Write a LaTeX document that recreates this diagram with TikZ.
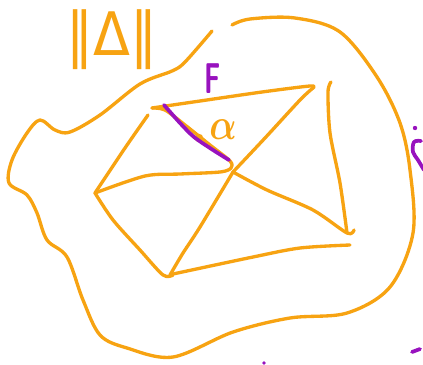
\documentclass[tikz,border=0pt]{standalone}
\usepackage{fontspec}
\newfontfamily\djv{DejaVu Sans}
\definecolor{pen}{RGB}{247,163,18}
\definecolor{ink}{RGB}{152,18,190}
\tikzset{
  stroke/.style={draw=pen, line width=2.5pt, line cap=round, line join=round},
  pstroke/.style={draw=ink, line width=2.8pt, line cap=round, line join=round},
  lbl/.style={inner sep=0pt}
}
\begin{document}
\begin{tikzpicture}[x=0.75pt,y=-0.75pt]
\useasboundingbox (0,0) rectangle (423,364);
\clip (0,0) rectangle (423,364);
% vertices
\coordinate (A) at (152,108);
\coordinate (B) at (313,88);
\coordinate (C) at (233,172);
\coordinate (D) at (95,193);
\coordinate (E) at (170,275);
\coordinate (G) at (347,233);
% outer blob
\draw[stroke] plot[smooth, tension=0.55] coordinates {
  (232,25) (250,19) (295,18) (340,32) (377,77) (400,123) (410,170) (413,233)
  (390,287) (347,313) (290,318) (233,332) (173,357) (127,348) (100,335)
  (83,300) (67,257) (47,240) (37,213) (27,195) (9,183) (12,160) (27,133)
  (40,120) (55,130) (70,132) (100,115) (140,84) (172,71) (185,62) (212,31)};
% ||Delta||
\node[lbl, text=pen, font=\djv\fontsize{45}{45}\selectfont, xscale=0.9] (norm) at (112,40) {‖Δ‖};
% edges
\draw[stroke] plot[smooth, tension=0.5] coordinates {(A) (200,101) (262,92) (310,86) (B)};
\draw[stroke] plot[smooth, tension=0.5] coordinates {(B) (300,100) (265,138) (C)};
\draw[stroke] plot[smooth, tension=0.5] coordinates {(148,115) (125,148) (D)};
\draw[stroke] plot[smooth, tension=0.5] coordinates {(A) (165,110) (185,125) (210,145) (230,161) (231,168) (220,172) (180,174) (145,176) (D)};
\draw[stroke] plot[smooth, tension=0.5] coordinates {(C) (267,190) (313,210) (G) (354,230)};
\draw[stroke] plot[smooth, tension=0.5] coordinates {(C) (200,227) (183,253) (E)};
\draw[stroke] plot[smooth, tension=0.5] coordinates {(D) (113,220) (140,250) (163,275) (173,275)};
\draw[stroke] plot[smooth, tension=0.5] coordinates {(173,274) (253,257) (300,248) (350,245)};
\draw[stroke] plot[smooth, tension=0.5] coordinates {(331,82) (328,92) (330,133) (340,183) (G)};
% dot on the diagonal
\fill[pen] (199,138) circle (4.2);
% purple segment
\draw[pstroke] plot[smooth, tension=0.5] coordinates {(164,105) (180,123) (194,137) (213,150) (229,160)};
% labels
\node[lbl, text=ink, font=\Huge\sffamily\bfseries, xscale=0.8, yscale=1.3] (F) at (213,79) {F};
\node[lbl, text=pen, font=\huge\boldmath, xscale=1.3, yscale=1.6] (alpha) at (223,130) {$\alpha$};
% cut-off purple marks at the edges
\fill[ink] (415,128) circle (2.2);
\draw[pstroke] plot[smooth, tension=0.6] coordinates {(421,141) (414,142) (413,152) (418,160) (424,170)};
\draw[pstroke] (412,352) -- (420,349);
\fill[ink] (264,363) circle (1.8);
\end{tikzpicture}
\end{document}
